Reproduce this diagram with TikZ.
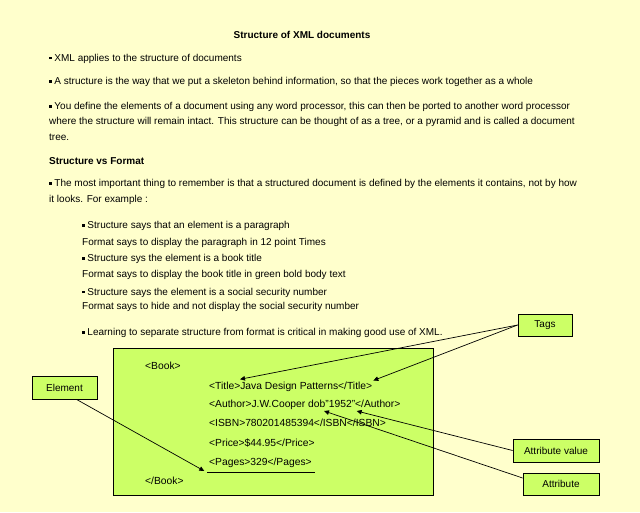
\documentclass[tikz,border=0pt]{standalone}
\usepackage{fontspec}
\setmainfont{Liberation Sans}
\usetikzlibrary{arrows.meta}
\definecolor{bgyellow}{HTML}{FFFFCC}
\definecolor{boxgreen}{HTML}{CCFF66}
\newcommand{\blt}{\raisebox{2pt}{\rule{2.5pt}{2.5pt}}\ }
\begin{document}
\begin{tikzpicture}[x=1pt,y=-1pt,
  txt/.style={inner sep=0pt,anchor=base west,font=\fontsize{10}{12}\selectfont},
  code/.style={inner sep=0pt,anchor=base west,font=\fontsize{10.3}{12}\selectfont},
  hd/.style={inner sep=0pt,anchor=base,font=\fontsize{10}{12}\selectfont\bfseries},
  lbl/.style={draw=black,fill=boxgreen,line width=0.8pt,inner sep=0pt,font=\fontsize{10}{12}\selectfont},
  ptr/.style={line width=0.7pt,-{Triangle[length=5pt,width=4.5pt]}}]
\fill[bgyellow] (0,0) rectangle (640,512);
\useasboundingbox (0,0) rectangle (640,512);
% header text
\node[hd] (title) at (302,38.2) {Structure of XML documents};
\node[txt] (p1) at (49,61.2) {\blt XML applies to the structure of documents};
\node[txt] (p2) at (49,84.5) {\blt A structure is the way that we put a skeleton behind information, so that the pieces work together as a whole};
\node[txt] (p3a) at (49,109.5) {\blt You define the elements of a document using any word processor, this can then be ported to another word processor};
\node[txt] (p3b) at (49,124.5) {where the structure will remain intact.  This structure can be thought of as a tree, or a pyramid and is called a document};
\node[txt] (p3c) at (49,140.5) {tree.};
\node[txt,font=\fontsize{10}{12}\selectfont\bfseries] (svf) at (49,164.2) {Structure vs Format};
\node[txt] (p4a) at (49,186.8) {\blt The most important thing to remember is that a structured document is defined by the elements it contains, not by how};
\node[txt] (p4b) at (49,202.5) {it looks.  For example :};
\node[txt] (s1) at (82,228.5) {\blt Structure says that an element is a paragraph};
\node[txt] (f1) at (82,245.8) {Format says to display the paragraph in 12 point  Times};
\node[txt] (s2) at (82,261.8) {\blt Structure sys the element is a book title};
\node[txt] (f2) at (82,277.8) {Format says to display the book title in green bold body text};
\node[txt] (s3) at (82,295.2) {\blt Structure says the element is a social security number};
\node[txt] (f3) at (82,309.2) {Format says to hide and not display the social security number};
\node[txt] (p5) at (82,335.8) {\blt Learning to separate structure from format is critical in making good use of XML.};
% code box
\node[draw=black,fill=boxgreen,line width=0.8pt,minimum width=320pt,minimum height=147pt,inner sep=0pt] (codebox) at (273,421.5) {};
\node[code] (c1) at (145,369.5) {<Book>};
\node[code] (c2) at (209,389.5) {<Title>Java Design Patterns</Title>};
\node[code] (c3) at (209,407.8) {<Author>J.W.Cooper dob"1952"</Author>};
\node[code] (c4) at (209,426.8) {<ISBN>780201485394</ISBN</ISBN>};
\node[code] (c5) at (209,446.2) {<Price>\$44.95</Price>};
\node[code] (c6) at (209,465.2) {<Pages>329</Pages>};
\node[code] (c7) at (145,484.2) {</Book>};
\coordinate (ulA) at (207,472.7);
\coordinate (ulB) at (315,472.7);
\draw[line width=0.8pt] (ulA) -- (ulB);
% labels
\node[lbl,minimum width=54pt,minimum height=22pt] (tags) at (545,325) {Tags};
\node[lbl,minimum width=86pt,minimum height=23pt] (attval) at (556,450.5) {Attribute value};
\node[lbl,minimum width=76pt,minimum height=22pt] (attr) at (561,484) {Attribute};
\node[lbl,minimum width=65pt,minimum height=23pt] (elem) at (64.5,387.5) {Element};
% tips
\coordinate (tipT1) at (240,379.3);
\coordinate (tipT2) at (373.3,380.5);
\coordinate (tipAV) at (356.7,411);
\coordinate (tipA) at (324,411);
\coordinate (tipE) at (204.3,471);
\draw[ptr] (tags.west) -- (tipT1);
\draw[ptr] (tags.west) -- (tipT2);
\draw[ptr] (attval.west) -- (tipAV);
\draw[ptr] ([yshift=6pt]attr.west) -- (tipA);
\draw[ptr] ([xshift=12pt]elem.south) -- (tipE);
\end{tikzpicture}
\end{document}
